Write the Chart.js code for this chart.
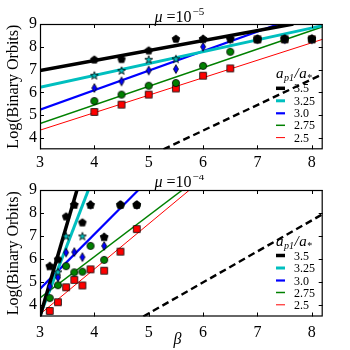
<!DOCTYPE html>
<html>
<head>
<meta charset="utf-8">
<script src="https://cdn.jsdelivr.net/npm/chart.js@4.4.1/dist/chart.umd.min.js"></script>
<style>
  html, body { margin: 0; padding: 0; background: #fff; }
  canvas { display: block; }
</style>
</head>
<body>
<canvas id="chartTop" width="350" height="175"></canvas>
<canvas id="chartBottom" width="350" height="175"></canvas>
<script>
// legend entries a_p1/a_*
const ratios = ['3.5', '3.25', '3.0', '2.75', '2.5'];
const colors = ['#000000', '#00bfbf', '#0000ff', '#008000', '#ff0000'];
const lineWidths = [3.5, 3, 2.2, 1.5, 1];

const xTicks = [3, 4, 5, 6, 7, 8];
const yTicks = [4, 5, 6, 7, 8, 9];

// mu = 1e-5
const betaA = [4, 4.5, 5, 5.5, 6, 6.5, 7, 7.5, 8];
const a35  = [7.43, 7.45, 7.83, 8.34, 8.34, 8.35, 8.33, 8.35, 8.35];
const a325 = [6.73, 6.94, 7.43, 7.45, 8.33, 8.33, 8.33, 8.33, 8.33];
const a30  = [6.19, 6.48, 6.96, 7.02, 8.0, 8.33, 8.33, 8.33, 8.33];
const a275 = [5.62, 5.9, 6.29, 6.41, 7.16, 7.78, 8.33, 8.33, 8.33];
const a25  = [5.14, 5.46, 5.9, 6.17, 6.73, 7.05, 8.33, 8.33, 8.33];
const fitA_x0 = [3, 3, 3, 3, 3];
const fitA_y0 = [6.96, 6.22, 5.24, 4.63, 4.34];
const fitA_x1 = [7.66, 8.2, 7.39, 8.2, 8.2];
const fitA_y1 = [9, 8.93, 9, 8.88, 8.33];
const dashA_x = [5.27, 8.2];
const dashA_y = [3.5, 6.8];

// mu = 1e-4
const betaB = [3.18, 3.33, 3.48, 3.63, 3.78, 3.93, 4.18, 4.48, 4.78];
const b35  = [5.68, 5.98, 7.84, 8.35, 7.58, 8.35, 6.95, 8.35, 8.35];
const b325 = [5.68, 5.42, 6.98, 8.35, 6.98, 8.35, 6.95, 8.35, 8.35];
const b30  = [4.8, 5.2, 6.28, 6.3, 6.08, 8.35, 6.57, 8.35, 8.35];
const b275 = [4.3, 4.86, 5.69, 5.42, 5.45, 6.57, 5.96, 8.35, 8.35];
const b25  = [3.74, 4.12, 4.77, 5.09, 4.85, 5.55, 5.49, 6.32, 7.3];
const fitB_x0 = [3, 3, 3, 3, 3];
const fitB_y0 = [3.5, 3.55, 4.7, 4.31, 3.6];
const fitB_x1 = [3.68, 3.89, 4.81, 5.62, 5.75];
const fitB_y1 = [9, 9, 9, 9, 9];
const dashB_x = [4.9, 8.2];
const dashB_y = [3.5, 7.95];

const SERIF = '"Liberation Serif", "DejaVu Serif", serif';

// marker images (matplotlib style, black edge)
function makeMarker(shape, fill) {
  const s = 12;
  const c = document.createElement('canvas');
  c.width = s; c.height = s;
  const g = c.getContext('2d');
  g.translate(s / 2, s / 2);
  g.beginPath();
  if (shape === 'pentagon') {
    for (let i = 0; i < 5; i++) {
      const a = -Math.PI / 2 + i * 2 * Math.PI / 5;
      g.lineTo(4 * Math.cos(a), 4 * Math.sin(a));
    }
  } else if (shape === 'star') {
    for (let i = 0; i < 10; i++) {
      const a = -Math.PI / 2 + i * Math.PI / 5;
      const r = i % 2 ? 1.7 : 4.2;
      g.lineTo(r * Math.cos(a), r * Math.sin(a));
    }
  } else if (shape === 'diamond') {
    g.moveTo(0, -4.4); g.lineTo(2.5, 0); g.lineTo(0, 4.4); g.lineTo(-2.5, 0);
  } else if (shape === 'circle') {
    g.arc(0, 0, 3.6, 0, Math.PI * 2);
  } else {
    g.rect(-3.4, -3.4, 6.8, 6.8);
  }
  g.closePath();
  g.fillStyle = fill;
  g.fill();
  g.strokeStyle = '#000';
  g.lineWidth = 0.8;
  g.stroke();
  return c;
}
const markers = [
  makeMarker('pentagon', '#000000'),
  makeMarker('star', '#00bfbf'),
  makeMarker('diamond', '#0000ff'),
  makeMarker('circle', '#008000'),
  makeMarker('square', '#ff0000')
];

function buildDatasets(beta, series, fx0, fy0, fx1, fy1, dx, dy) {
  const ds = [];
  series.forEach((vals, i) => {
    ds.push({
      data: beta.map((b, j) => ({ x: b, y: vals[j] })),
      showLine: false,
      pointStyle: markers[i],
      pointRadius: 4,
      order: i
    });
  });
  ratios.forEach((r, i) => {
    ds.push({
      data: [{ x: fx0[i], y: fy0[i] }, { x: fx1[i], y: fy1[i] }],
      showLine: true,
      borderColor: colors[i],
      borderWidth: lineWidths[i],
      pointRadius: 0,
      order: 10 + i
    });
  });
  ds.push({
    data: dx.map((v, j) => ({ x: v, y: dy[j] })),
    showLine: true,
    borderColor: '#000',
    borderWidth: 2.4,
    borderDash: [7, 4],
    pointRadius: 0,
    order: 20
  });
  return ds;
}

// frame, inward ticks, title, legend, x label
const decor = {
  id: 'decor',
  afterDraw(chart, args, opts) {
    const { ctx, chartArea: a, scales: { x, y } } = chart;
    ctx.save();
    ctx.strokeStyle = '#000';
    ctx.lineWidth = 1.2;
    ctx.strokeRect(a.left + 0.5, a.top + 0.5, a.width - 1, a.height - 1);

    ctx.lineWidth = 1;
    ctx.beginPath();
    xTicks.forEach(v => {
      const px = Math.round(x.getPixelForValue(v)) + 0.5;
      ctx.moveTo(px, a.bottom); ctx.lineTo(px, a.bottom - 4);
      ctx.moveTo(px, a.top); ctx.lineTo(px, a.top + 4);
    });
    yTicks.forEach(v => {
      const py = Math.round(y.getPixelForValue(v)) + 0.5;
      ctx.moveTo(a.left, py); ctx.lineTo(a.left + 4, py);
      ctx.moveTo(a.right, py); ctx.lineTo(a.right - 4, py);
    });
    ctx.stroke();

    // title  mu = 10^exp
    ctx.fillStyle = '#000';
    ctx.textBaseline = 'alphabetic';
    ctx.textAlign = 'left';
    const fMain = '16px ' + SERIF;
    const fIt = 'italic 16px ' + SERIF;
    const fSup = '11px ' + SERIF;
    ctx.font = fIt; const wMu = ctx.measureText('\u03bc').width;
    ctx.font = fMain; const wEq = ctx.measureText('=10').width;
    ctx.font = fSup; const wSup = ctx.measureText(opts.exp).width;
    const total = wMu + 4 + wEq + 1 + wSup;
    let tx = (a.left + a.right) / 2 - total / 2 - 2;
    const ty = a.top - opts.titleGap;
    ctx.font = fIt; ctx.fillText('\u03bc', tx, ty); tx += wMu + 4;
    ctx.font = fMain; ctx.fillText('=10', tx, ty); tx += wEq + 1;
    ctx.font = fSup; ctx.fillText(opts.exp, tx, ty - 7);

    // legend
    const lx = 276;
    let gx = lx;
    const gy = a.bottom - 71;
    const parts = [
      ['italic 15px ' + SERIF, 'a', 0],
      ['italic 10px ' + SERIF, 'p1', 3],
      ['italic 15px ' + SERIF, '/', 0],
      ['italic 15px ' + SERIF, 'a', 0],
      ['10px ' + SERIF, '*', 3]
    ];
    parts.forEach(([f, t, dy]) => {
      ctx.font = f;
      ctx.fillText(t, gx, gy + dy);
      gx += ctx.measureText(t).width + 0.5;
    });
    const rowOff = [61, 48.5, 36, 24, 11.7];
    ctx.font = '12px ' + SERIF;
    ctx.textBaseline = 'middle';
    ratios.forEach((r, i) => {
      const ry = a.bottom - rowOff[i];
      ctx.strokeStyle = colors[i];
      ctx.lineWidth = lineWidths[i];
      ctx.beginPath();
      ctx.moveTo(lx, ry); ctx.lineTo(lx + 9, ry);
      ctx.stroke();
      ctx.fillText(r, lx + 18, ry + 1);
    });

    if (opts.xLabel) {
      ctx.textAlign = 'center';
      ctx.textBaseline = 'alphabetic';
      ctx.font = 'italic 16px ' + SERIF;
      ctx.fillText('\u03b2', 177.5, 169);
    }
    ctx.restore();
  }
};

function makeChart(id, datasets, cfg) {
  return new Chart(document.getElementById(id), {
    type: 'scatter',
    data: { datasets: datasets },
    options: {
      responsive: false,
      animation: false,
      events: [],
      layout: { padding: { left: 0, right: 27.3, top: cfg.top, bottom: 0 } },
      plugins: {
        legend: { display: false },
        tooltip: { enabled: false },
        decor: { exp: cfg.exp, titleGap: cfg.titleGap, xLabel: cfg.xLabel }
      },
      scales: {
        x: {
          type: 'linear',
          min: 3, max: 8.2,
          afterBuildTicks: s => { s.ticks = xTicks.map(v => ({ value: v })); },
          afterFit: s => { s.height = cfg.xHeight; },
          grid: { display: false, drawTicks: false },
          border: { display: false },
          ticks: {
            color: '#000', padding: cfg.xPad, autoSkip: false, maxRotation: 0,
            font: { family: SERIF, size: 16 }
          }
        },
        y: {
          type: 'linear',
          min: 3.5, max: 9,
          afterBuildTicks: s => { s.ticks = yTicks.map(v => ({ value: v })); },
          afterFit: s => { s.width = 40; },
          grid: { display: false, drawTicks: false },
          border: { display: false },
          ticks: { color: '#000', padding: 3, font: { family: SERIF, size: 16 } },
          title: {
            display: true, text: 'Log(Binary Orbits)', color: '#000',
            padding: { top: 4, bottom: 0 },
            font: { family: SERIF, size: 16 }
          }
        }
      }
    },
    plugins: [decor]
  });
}

makeChart('chartTop',
  buildDatasets(betaA, [a35, a325, a30, a275, a25], fitA_x0, fitA_y0, fitA_x1, fitA_y1, dashA_x, dashA_y),
  { top: 24, xHeight: 25.7, xPad: 4, exp: '\u22125', titleGap: 2.5, xLabel: false });

makeChart('chartBottom',
  buildDatasets(betaB, [b35, b325, b30, b275, b25], fitB_x0, fitB_y0, fitB_x1, fitB_y1, dashB_x, dashB_y),
  { top: 15, xHeight: 33.5, xPad: 7, exp: '\u22124', titleGap: 3.5, xLabel: true });
</script>
</body>
</html>
